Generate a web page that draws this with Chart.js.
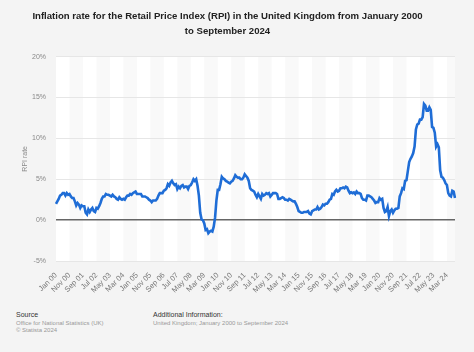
<!DOCTYPE html>
<html>
<head>
<meta charset="utf-8">
<script src="https://cdn.jsdelivr.net/npm/chart.js@4"></script>
<style>
  body { margin: 0; background: #fff; }
  .wrap { position: relative; width: 474px; height: 352px; background: #f4f4f4; font-family: "Liberation Sans", Arial, sans-serif; }
  canvas { position: absolute; left: 0; top: 0; }
  .foot { position: absolute; font-size: 6px; color: #999; line-height: 7.5px; }
  .foot b { font-weight: normal; color: #333; font-size: 7px; }
</style>
</head>
<body>
<div class="wrap">
  <canvas id="c" width="474" height="300"></canvas>
  <div class="foot" style="left:16px; top:311px;"><b>Source</b><br>Office for National Statistics (UK)<br>© Statista 2024</div>
  <div class="foot" style="left:153px; top:311px;"><b>Additional Information:</b><br>United Kingdom; January 2000 to September 2024</div>
</div>
<script>
// monthly RPI rate in %, Jan 2000 .. Sep 2024
const years = [
  '00','01','02','03','04','05','06','07','08','09','10','11','12',
  '13','14','15','16','17','18','19','20','21','22','23','24'
];
const monthNames = ['Jan','Feb','Mar','Apr','May','Jun','Jul','Aug','Sep','Oct','Nov','Dec'];

const rpi2000s = [
  2.0, 2.3, 2.6, 3.0, 3.1, 3.3, 3.3, 3.0, 3.3, 3.1, 3.2, 2.9,
  2.7, 2.7, 2.3, 1.8, 2.1, 1.9, 1.5, 1.8, 1.7, 1.7, 0.9, 0.7,
  1.3, 1.0, 1.3, 1.5, 1.1, 1.0, 1.5, 1.4, 1.7, 2.1, 2.6, 2.9,
  2.9, 3.2, 3.1, 3.1, 3.0, 2.9, 3.1, 2.9, 2.8, 2.6, 2.5, 2.8,
  2.6, 2.5, 2.6, 2.5, 2.8, 3.0, 3.0, 3.2, 3.1, 3.3, 3.4, 3.5,
  3.2, 3.2, 3.2, 3.2, 2.9, 2.9, 2.9, 2.8, 2.7, 2.5, 2.4, 2.2,
  2.4, 2.4, 2.4, 2.6, 3.0, 3.3, 3.3, 3.3, 3.6, 3.7, 3.9, 4.4,
  4.2, 4.6, 4.8, 4.5, 4.3, 4.4, 3.8, 4.1, 3.9, 4.2, 4.3, 4.0,
  4.1, 4.1, 3.8, 4.2, 4.3, 4.6, 5.0, 4.8, 5.0, 4.2, 3.0, 0.9,
  0.1, 0.0, -0.4, -1.2, -1.1, -1.6, -1.4, -1.3, -1.4, -0.8, 0.3, 2.4
];
const rpi2010s = [
  3.7, 3.7, 4.4, 5.3, 5.1, 5.0, 4.8, 4.7, 4.6, 4.5, 4.7, 4.8,
  5.1, 5.5, 5.3, 5.2, 5.2, 5.0, 5.0, 5.2, 5.6, 5.4, 5.2, 4.8,
  3.9, 3.7, 3.6, 3.5, 3.1, 2.8, 3.2, 2.9, 2.6, 3.2, 3.0, 3.1,
  3.3, 3.2, 3.3, 2.9, 3.1, 3.3, 3.3, 3.3, 3.2, 2.6, 2.6, 2.7,
  2.8, 2.7, 2.5, 2.5, 2.4, 2.6, 2.5, 2.4, 2.3, 2.3, 2.0, 1.6,
  1.1, 1.0, 0.9, 0.9, 1.0, 1.0, 1.0, 1.1, 0.8, 0.7, 1.1, 1.2,
  1.3, 1.3, 1.6, 1.3, 1.4, 1.6, 1.9, 1.8, 2.0, 2.0, 2.2, 2.5,
  2.6, 3.2, 3.1, 3.5, 3.7, 3.5, 3.6, 3.9, 3.9, 4.0, 3.9, 4.1,
  4.0, 3.6, 3.3, 3.4, 3.3, 3.4, 3.2, 3.5, 3.3, 3.3, 3.2, 2.7,
  2.5, 2.5, 2.4, 3.0, 3.0, 2.9, 2.8, 2.6, 2.4, 2.1, 2.2, 2.2
];
const rpi2020s = [
  2.7, 2.5, 2.6, 1.5, 1.0, 1.1, 1.6, 0.5, 1.1, 1.3, 0.9, 1.2,
  1.4, 1.4, 1.5, 2.9, 3.3, 3.9, 3.8, 4.8, 4.9, 6.0, 7.1, 7.5,
  7.8, 8.2, 9.0, 11.1, 11.7, 11.8, 12.3, 12.3, 12.6, 14.2, 14.0, 13.4,
  13.4, 13.8, 13.5, 11.4, 11.3, 10.7, 9.0, 9.3, 8.9, 6.1, 5.3, 5.2,
  4.9, 4.5, 4.3, 3.3, 3.0, 2.9, 3.6, 3.5, 2.7
];
const yTicks = [-5, 0, 5, 10, 15, 20];

const values = rpi2000s.concat(rpi2010s, rpi2020s);
const labels = values.map((v, i) => monthNames[i % 12] + ' ' + years[Math.floor(i / 12)]);
const TICK_STEP = 10;

// alternating vertical bands behind the plot
const bands = {
  id: 'bands',
  beforeDraw(chart) {
    const { ctx, chartArea: a, scales: { x } } = chart;
    ctx.save();
    ctx.fillStyle = '#ffffff';
    ctx.fillRect(a.left, a.top, a.right - a.left, a.bottom - a.top);
    ctx.fillStyle = '#f9f9f9';
    for (let i = 0, k = 0; i < labels.length; i += TICK_STEP, k++) {
      if (k % 2 === 0) continue;
      const x0 = x.getPixelForValue(i);
      const x1 = i + TICK_STEP >= labels.length ? a.right : x.getPixelForValue(i + TICK_STEP);
      ctx.fillRect(x0, a.top, x1 - x0, a.bottom - a.top);
    }
    ctx.restore();
  }
};

new Chart(document.getElementById('c'), {
  type: 'line',
  data: {
    labels: labels,
    datasets: [{
      data: values,
      borderColor: '#1f6dd6',
      borderWidth: 2.6,
      pointRadius: 0,
      tension: 0,
      fill: false
    }]
  },
  options: {
    responsive: false,
    animation: false,
    layout: { padding: { left: 0, right: 19, top: 0, bottom: 0 } },
    plugins: {
      legend: { display: false },
      tooltip: { enabled: false },
      title: {
        display: true,
        text: ['Inflation rate for the Retail Price Index (RPI) in the United Kingdom from January 2000', 'to September 2024'],
        color: '#222',
        font: { family: 'Liberation Sans, Arial, sans-serif', size: 9.6, weight: 'bold', lineHeight: 1.65 },
        padding: { top: 8, bottom: 17 }
      }
    },
    scales: {
      x: {
        offset: false,
        grid: { display: false },
        border: { display: false },
        afterFit(s) { s.height = 39; },
        ticks: {
          autoSkip: false,
          maxRotation: 45,
          minRotation: 45,
          color: '#777',
          padding: 2,
          font: { family: 'Liberation Sans, Arial, sans-serif', size: 7.5 },
          callback: (v, i) => (i % TICK_STEP === 0 ? labels[i] : null)
        }
      },
      y: {
        min: -5,
        max: 20,
        afterFit(s) { s.width = 56; },
        afterBuildTicks(s) { s.ticks = yTicks.map(v => ({ value: v })); },
        border: { display: false },
        grid: {
          color: c => (c.tick.value === 0 ? '#666' : '#e6e6e6'),
          lineWidth: c => (c.tick.value === 0 ? 1.4 : 1),
          drawTicks: false
        },
        ticks: {
          color: '#888',
          padding: 10,
          font: { family: 'Liberation Sans, Arial, sans-serif', size: 7 },
          callback: v => v + '%'
        },
        title: {
          display: true,
          text: 'RPI rate',
          color: '#888',
          font: { family: 'Liberation Sans, Arial, sans-serif', size: 7 },
          padding: { top: 21, bottom: 0 }
        }
      }
    }
  },
  plugins: [bands]
});
</script>
</body>
</html>
